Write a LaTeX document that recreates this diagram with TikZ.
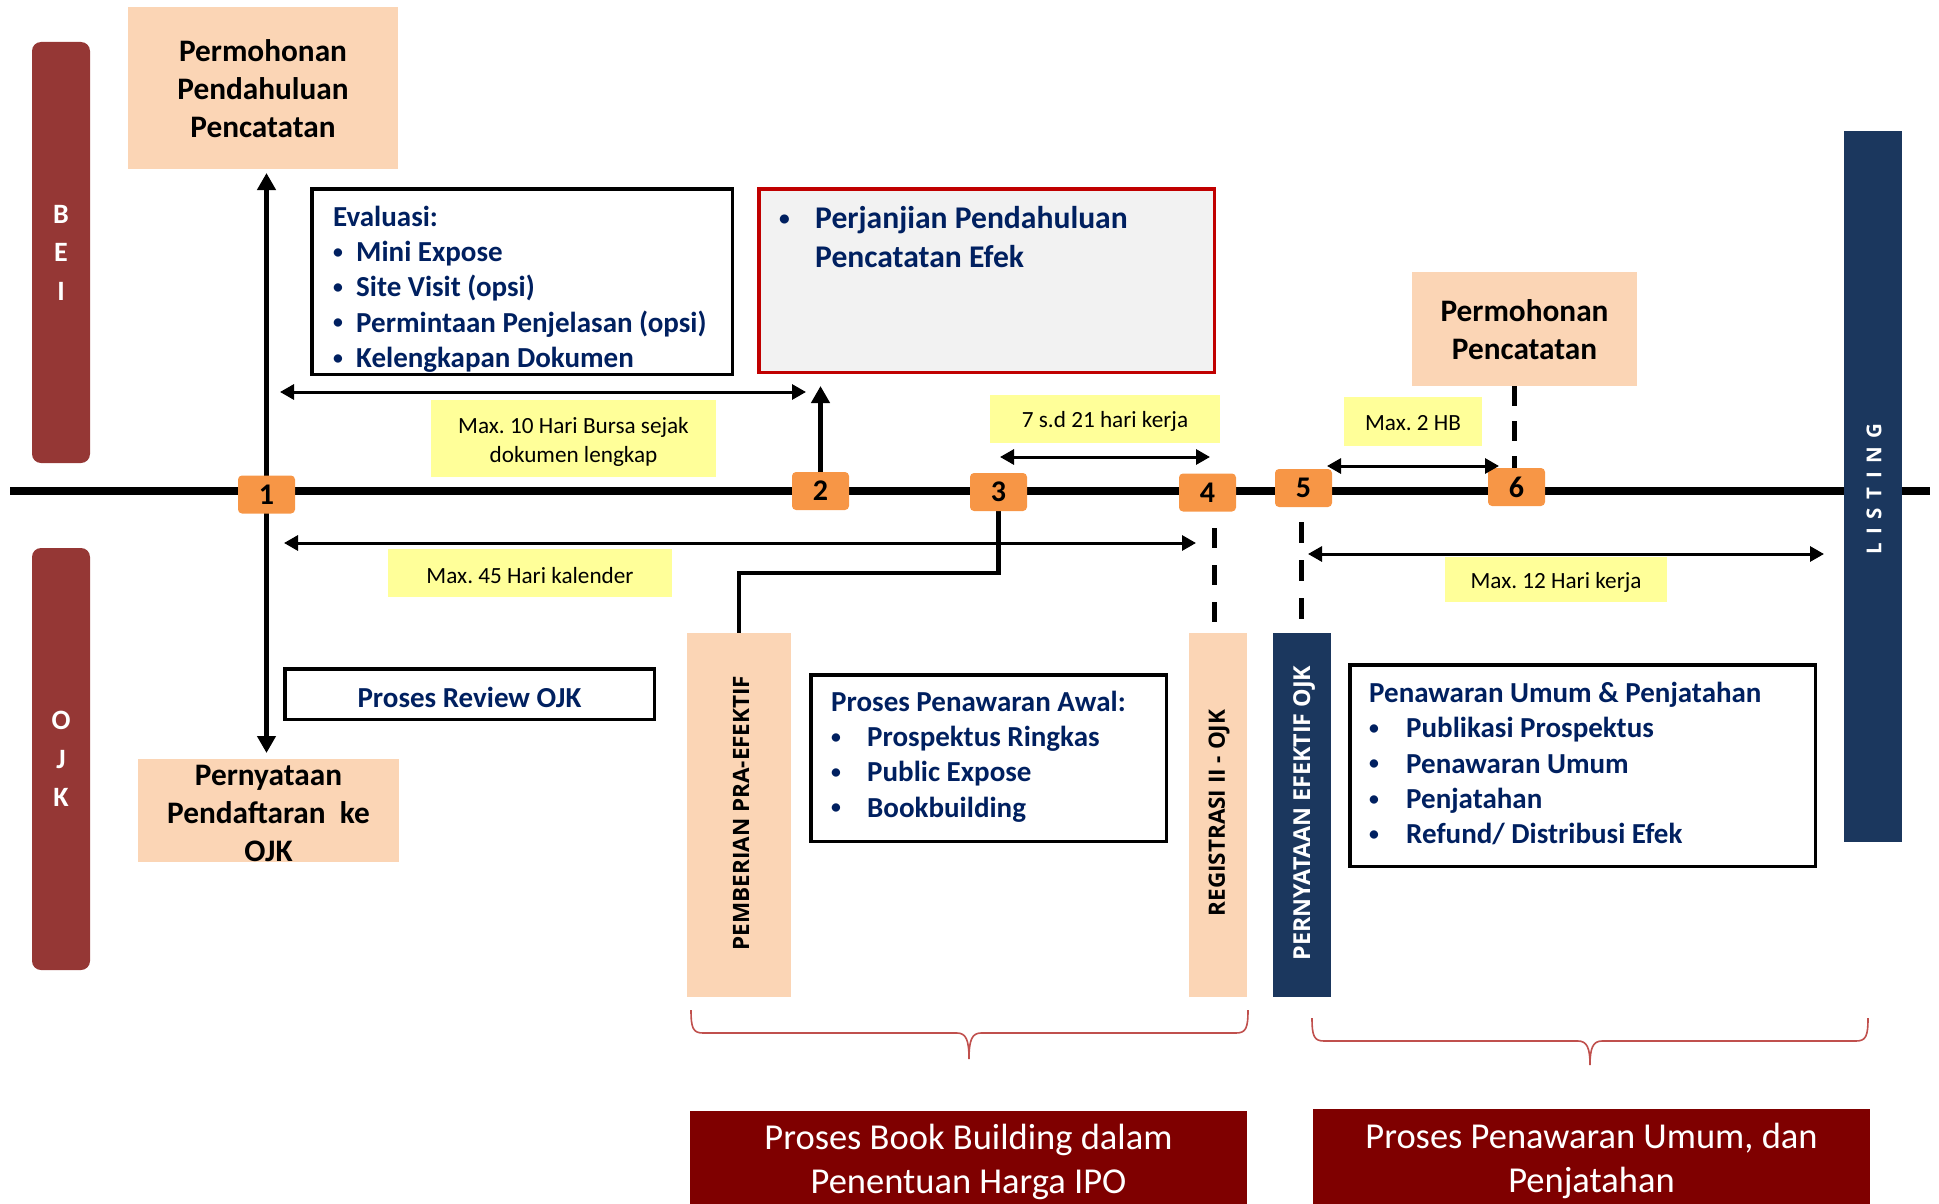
\documentclass[tikz,border=0pt]{standalone}
\usepackage{fontspec}
\setmainfont{Carlito}
\newfontfamily\osans{Open Sans}
\usetikzlibrary{arrows.meta}
\pgfdeclarelayer{bg}
\pgfsetlayers{bg,main}
\definecolor{barred}{HTML}{953735}
\definecolor{peach}{HTML}{FBD5B5}
\definecolor{orng}{HTML}{F79646}
\definecolor{navytxt}{HTML}{002060}
\definecolor{yel}{HTML}{FFFF99}
\definecolor{navybar}{HTML}{1B375E}
\definecolor{maroonbox}{HTML}{7F0000}
\definecolor{bracecol}{HTML}{C0504D}
\definecolor{redborder}{HTML}{C00000}
\definecolor{lgray}{HTML}{F2F2F2}
\newcommand\lsp{\hspace{8.5pt}}
\newcommand\bul{\raisebox{0.11em}{\scalebox{0.68}{•}}}
\frenchspacing
\tikzset{
  peachbox/.style={fill=peach, inner sep=0pt, outer sep=0pt},
  peachtext/.style={inner sep=0pt, align=center, font=\fontsize{31.3}{38}\selectfont\bfseries},
  yelbox/.style={fill=yel, inner sep=0pt},
  yeltext/.style={inner sep=0pt, align=center, font=\fontsize{23.2}{29}\selectfont},
  numbox/.style={fill=orng, rounded corners=4pt, minimum width=57pt, minimum height=38pt, inner sep=0pt, font=\fontsize{30}{30}\selectfont\bfseries},
  listbox/.style={draw=black, line width=3.5pt, fill=white, inner sep=0pt},
  navytext/.style={text=navytxt, inner sep=0pt, align=left, font=\fontsize{29}{35.3}\selectfont\bfseries},
  sidebar/.style={fill=barred, rounded corners=9pt, inner sep=0pt, minimum width=58pt, text=white, font=\fontsize{28}{38.5}\selectfont\bfseries, align=center},
  vtext/.style={inner sep=0pt, font=\osans\bfseries\fontsize{22.5}{24}\selectfont},
  dimarrow/.style={line width=3pt, {Triangle[width=15pt,length=14pt]}-{Triangle[width=15pt,length=14pt]}},
  bigarrow/.style={line width=5pt, -{Triangle[width=18pt,length=17pt]}},
  dashline/.style={line width=5pt, dash pattern=on 20pt off 17pt},
  bracepath/.style={draw=bracecol, line width=1.6pt},
  botbox/.style={fill=maroonbox, inner sep=0pt},
  bottext/.style={text=white, font=\fontsize{36.5}{44}\selectfont, align=center, inner sep=0pt}
}
\begin{document}
\begin{tikzpicture}[x=1pt,y=-1pt]
\useasboundingbox (0,0) rectangle (1939,1204);

% side bars
\node[sidebar, minimum height=421pt] (bei) at (61,252.5) {B\\E\\I};
\node[sidebar, minimum height=422pt] (ojk) at (61,759) {O\\J\\K};

% peach boxes
\node[peachbox, minimum width=270pt, minimum height=162pt] (pp) at (263,88) {};
\node[peachtext] (pptxt) at (263,89) {Permohonan\\Pendahuluan\\Pencatatan};
\node[peachbox, minimum width=225pt, minimum height=114pt] (pc) at (1524.5,329) {};
\node[peachtext] (pctxt) at (1524.5,330) {Permohonan\\Pencatatan};
\node[peachbox, minimum width=261pt, minimum height=103pt] (pd) at (268.5,810.5) {};
\node[peachtext] (pdtxt) at (268.5,813) {Pernyataan\\Pendaftaran\ \ ke\\OJK};

% yellow labels
\node[yelbox, minimum width=285pt, minimum height=77pt] (y10) at (573.5,438.5) {};
\node[yeltext] (y10t) at (573.5,441.5) {Max. 10 Hari Bursa sejak\\dokumen lengkap};
\node[yelbox, minimum width=230pt, minimum height=48pt] (y7) at (1105,419) {};
\node[yeltext] (y7t) at (1105,421.5) {7 s.d 21 hari kerja};
\node[yelbox, minimum width=138pt, minimum height=49pt] (y2) at (1413,421.5) {};
\node[yeltext] (y2t) at (1413,423.5) {Max. 2 HB};
\node[yelbox, minimum width=284pt, minimum height=48pt] (y45) at (530,573) {};
\node[yeltext] (y45t) at (530,575.5) {Max. 45 Hari kalender};
\node[yelbox, minimum width=222pt, minimum height=45pt] (y12) at (1556,579.5) {};
\node[yeltext] (y12t) at (1556,582) {Max. 12 Hari kerja};

% Evaluasi box
\node[listbox, minimum width=420.5pt, minimum height=185.5pt] (ev) at (522,281.5) {};
\node[navytext, anchor=west] (evtxt) at (333,289) {Evaluasi:\\\makebox[23pt][l]{\bul}Mini Expose\\\makebox[23pt][l]{\bul}Site Visit (opsi)\\\makebox[23pt][l]{\bul}Permintaan Penjelasan (opsi)\\\makebox[23pt][l]{\bul}Kelengkapan Dokumen};

% Perjanjian box
\node[draw=redborder, fill=lgray, line width=3.5pt, minimum width=455.5pt, minimum height=183.5pt, inner sep=0pt] (rb) at (986.5,280.5) {};
\node[navytext, font=\fontsize{31.6}{39}\selectfont\bfseries, anchor=west] (rbtxt) at (779,237.5) {\makebox[36pt][l]{\bul}Perjanjian Pendahuluan\\\hspace*{36pt}Pencatatan Efek};

% Review box
\node[listbox, minimum width=369.5pt, minimum height=50.5pt] (rv) at (469.5,694) {};
\node[navytext] (rvtxt) at (469.5,697) {Proses Review OJK};

% Penawaran Awal box
\node[listbox, minimum width=355.5pt, minimum height=166.5pt] (aw) at (988.5,758) {};
\node[navytext, anchor=west] (awtxt) at (831,756.5) {Proses Penawaran Awal:\\\makebox[36pt][l]{\bul}Prospektus Ringkas\\\makebox[36pt][l]{\bul}Public Expose\\\makebox[36pt][l]{\bul}Bookbuilding};

% Penawaran Umum box
\node[listbox, minimum width=465.5pt, minimum height=201.5pt] (um) at (1582.5,765.5) {};
\node[navytext, anchor=west] (umtxt) at (1369,763.5) {Penawaran Umum \& Penjatahan\\\makebox[37pt][l]{\bul}Publikasi Prospektus\\\makebox[37pt][l]{\bul}Penawaran Umum\\\makebox[37pt][l]{\bul}Penjatahan\\\makebox[37pt][l]{\bul}Refund/ Distribusi Efek};

% vertical bars
\node[peachbox, minimum width=104pt, minimum height=364pt] (pemb) at (739,815) {};
\node[vtext, rotate=90] (pembtxt) at (741,813) {PEMBERIAN PRA-EFEKTIF};
\node[peachbox, minimum width=58pt, minimum height=364pt] (reg) at (1218,815) {};
\node[vtext, rotate=90] (regtxt) at (1219,813) {REGISTRASI II - OJK};
\node[fill=navybar, inner sep=0pt, minimum width=58pt, minimum height=364pt] (pe) at (1302,815) {};
\node[vtext, rotate=90, text=white, font=\osans\bfseries\fontsize{23.3}{26}\selectfont] (petxt) at (1304,813) {PERNYATAAN EFEKTIF OJK};
\node[fill=navybar, inner sep=0pt, minimum width=58pt, minimum height=711pt] (lst) at (1873,486.5) {};
\node[vtext, rotate=90, text=white, font=\osans\bfseries\fontsize{20.5}{24}\selectfont] (lsttxt) at (1874,489) {L\lsp I\lsp S\lsp T\lsp I\lsp N\lsp G};

% number boxes
\node[numbox] (b1) at (266.5,494.5) {1};
\node[numbox] (b2) at (820.5,491) {2};
\node[numbox] (b3) at (998.5,492) {3};
\node[numbox] (b4) at (1207.5,492.5) {4};
\node[numbox] (b5) at (1303.5,488) {5};
\node[numbox] (b6) at (1516.5,487) {6};

% bottom boxes
\node[botbox, minimum width=557pt, minimum height=93pt] (bt1) at (968.5,1157.5) {};
\node[bottext] (bt1t) at (968.5,1162) {Proses Book Building dalam\\Penentuan Harga IPO};
\node[botbox, minimum width=557pt, minimum height=95pt] (bt2) at (1591.5,1156.5) {};
\node[bottext] (bt2t) at (1591.5,1160.5) {Proses Penawaran Umum, dan\\Penjatahan};

% braces
\draw[bracepath] (691,1010) .. controls (691,1028) and (693,1033) .. (703,1033) -- (957,1033) .. controls (966,1033) and (969,1040) .. (969,1059) .. controls (969,1040) and (972,1033) .. (981,1033) -- (1236,1033) .. controls (1246,1033) and (1248,1028) .. (1248,1010);
\draw[bracepath] (1312,1018) .. controls (1312,1036) and (1314,1041) .. (1324,1041) -- (1578,1041) .. controls (1587,1041) and (1590,1048) .. (1590,1065) .. controls (1590,1048) and (1593,1041) .. (1602,1041) -- (1856,1041) .. controls (1866,1041) and (1868,1036) .. (1868,1018);

% dimension arrows
\coordinate (m10a) at (280,392); \coordinate (m10b) at (806,392);
\coordinate (m7a) at (1000,457); \coordinate (m7b) at (1210,457);
\coordinate (m2a) at (1327,466); \coordinate (m2b) at (1499,466);
\coordinate (m45a) at (284,543); \coordinate (m45b) at (1196,543);
\coordinate (m12a) at (1308,554); \coordinate (m12b) at (1824,554);
\draw[dimarrow] (m10a) -- (m10b);
\draw[dimarrow] (m7a) -- (m7b);
\draw[dimarrow] (m2a) -- (m2b);
\draw[dimarrow] (m45a) -- (m45b);
\draw[dimarrow] (m12a) -- (m12b);

\begin{pgfonlayer}{bg}
\coordinate (tlA) at (10,491); \coordinate (tlB) at (1930,491);
\draw[line width=8pt] (tlA) -- (tlB);
\draw[bigarrow, shorten >=4pt] (b1.center) -- (b1.center |- pp.south);
\draw[bigarrow, shorten >=6pt] (b1.center) -- (b1.center |- pd.north);
\draw[bigarrow, shorten >=12pt] (b2.center) -- (b2.center |- rb.south);
\coordinate (k3) at (998.5,573);
\draw[line width=4.5pt] (b3.center) -- (k3) -| (pemb.north);
\coordinate (d4a) at (1214,528);
\draw[dashline] (d4a) -- (d4a |- reg.north);
\coordinate (d5a) at (1301,522);
\draw[dashline, dash pattern=on 21pt off 17pt] (d5a) -- (d5a |- pe.north);
\coordinate (d6a) at (1514,386);
\draw[dashline, dash pattern=on 20pt off 15pt] (d6a) -- (d6a |- b6.north);
\end{pgfonlayer}
\end{tikzpicture}
\end{document}
